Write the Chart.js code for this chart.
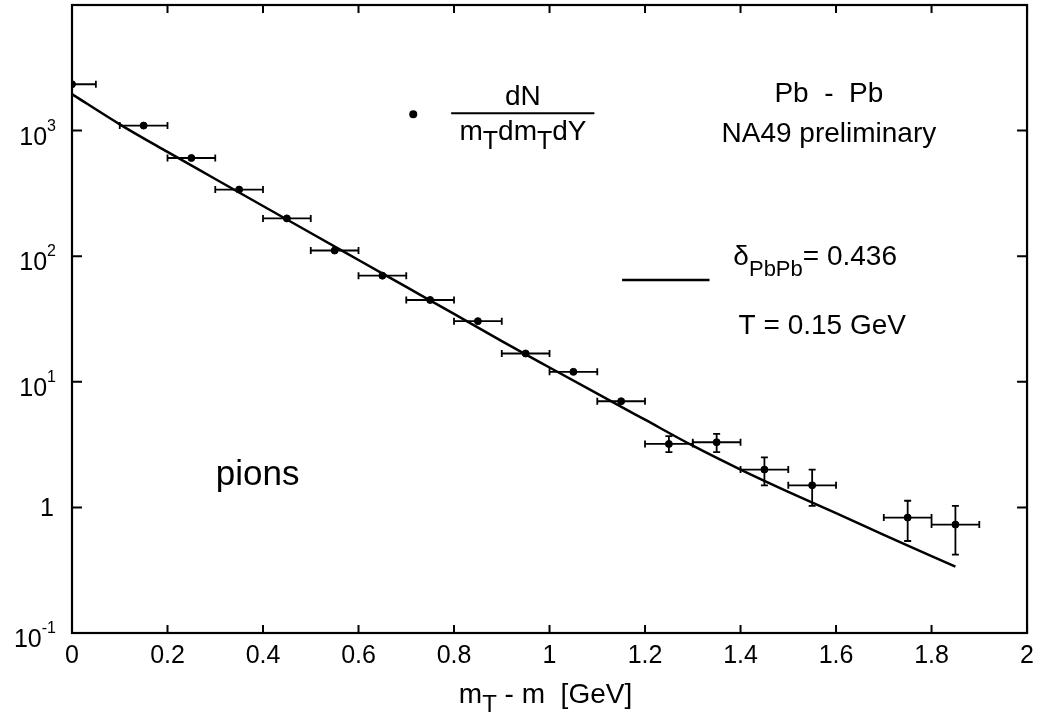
<!DOCTYPE html>
<html>
<head>
<meta charset="utf-8">
<script src="https://cdn.jsdelivr.net/npm/chart.js@4.4.1/dist/chart.umd.min.js"></script>
<style>
  html, body { margin: 0; padding: 0; background: #fff; }
</style>
</head>
<body>
<canvas id="c" width="1042" height="718"></canvas>
<script>
// pion m_T spectrum, Pb-Pb, NA49 preliminary
var mtBin = [0, 0.15, 0.25, 0.35, 0.45, 0.55, 0.65, 0.75, 0.85, 0.95, 1.05, 1.15, 1.25, 1.35, 1.45, 1.55, 1.75, 1.85];
var dNdmt = [2340, 1096, 605, 339, 200, 111, 70, 44.8, 30.4, 16.8, 12, 7.0, 3.2, 3.3, 2.0, 1.5, 0.83, 0.73];
var mtHalfWidth = [0.05, 0.05, 0.05, 0.05, 0.05, 0.05, 0.05, 0.05, 0.05, 0.05, 0.05, 0.05, 0.05, 0.05, 0.05, 0.05, 0.05, 0.05];
var errLow = [null, null, null, null, null, null, null, null, null, null, null, null, 2.75, 2.75, 1.5, 1.03, 0.54, 0.42];
var errHigh = [null, null, null, null, null, null, null, null, null, null, null, null, 3.7, 3.85, 2.5, 2.0, 1.13, 1.03];

// fit curve, delta = 0.436, T = 0.15 GeV
var fitX = [0, 0.1, 0.2, 0.3, 0.4, 0.5, 0.6, 0.7, 0.8, 0.9, 1.0, 1.1, 1.2, 1.3, 1.4, 1.5, 1.6, 1.7, 1.8, 1.85];
var fitY = [1950, 1122, 676, 412, 251, 153, 93.3, 56.9, 34.7, 21.1, 13.0, 8.04, 4.99, 3.10, 2.0, 1.33, 0.90, 0.605, 0.41, 0.337];

var yDecades = [0.1, 1, 10, 100, 1000];
var yTickLabels = [['10', '-1'], ['1', ''], ['10', '1'], ['10', '2'], ['10', '3']];

var FONT = '"Liberation Sans", Arial, Helvetica, sans-serif';

// draw a run of text pieces on a common baseline (dy shifts sub/superscripts)
function drawRuns(ctx, runs, x, y, align) {
    var w = 0;
    runs.forEach(function (r) {
        ctx.font = r.size + 'px ' + FONT;
        r.w = ctx.measureText(r.t).width;
        w += r.w;
    });
    var cx = align === 'center' ? x - w / 2 : (align === 'right' ? x - w : x);
    ctx.textAlign = 'left';
    ctx.textBaseline = 'alphabetic';
    runs.forEach(function (r) {
        ctx.font = r.size + 'px ' + FONT;
        ctx.fillText(r.t, cx, y + (r.dy || 0));
        cx += r.w;
    });
}

var errorBars = {
    id: 'errorBars',
    afterDatasetsDraw: function (chart) {
        var ctx = chart.ctx, xs = chart.scales.x, ys = chart.scales.y, a = chart.chartArea;
        ctx.save();
        ctx.beginPath();
        ctx.rect(a.left, a.top, a.right - a.left, a.bottom - a.top);
        ctx.clip();
        ctx.strokeStyle = '#000';
        ctx.lineWidth = 1.8;
        for (var i = 0; i < mtBin.length; i++) {
            var py = ys.getPixelForValue(dNdmt[i]);
            var x0 = xs.getPixelForValue(mtBin[i] - mtHalfWidth[i]);
            var x1 = xs.getPixelForValue(mtBin[i] + mtHalfWidth[i]);
            ctx.beginPath();
            ctx.moveTo(x0, py); ctx.lineTo(x1, py);
            ctx.moveTo(x0, py - 3.5); ctx.lineTo(x0, py + 3.5);
            ctx.moveTo(x1, py - 3.5); ctx.lineTo(x1, py + 3.5);
            ctx.stroke();
            if (errLow[i] != null) {
                var px = xs.getPixelForValue(mtBin[i]);
                var y0 = ys.getPixelForValue(errLow[i]);
                var y1 = ys.getPixelForValue(errHigh[i]);
                ctx.beginPath();
                ctx.moveTo(px, y0); ctx.lineTo(px, y1);
                ctx.moveTo(px - 3.5, y0); ctx.lineTo(px + 3.5, y0);
                ctx.moveTo(px - 3.5, y1); ctx.lineTo(px + 3.5, y1);
                ctx.stroke();
            }
        }
        ctx.restore();
    }
};

var frameAndText = {
    id: 'frameAndText',
    afterDraw: function (chart) {
        var ctx = chart.ctx, xs = chart.scales.x, ys = chart.scales.y, a = chart.chartArea;
        var X = function (v) { return xs.getPixelForValue(v); };
        var Y = function (lg) { return ys.getPixelForValue(Math.pow(10, lg)); };
        ctx.save();
        ctx.strokeStyle = '#000';
        ctx.fillStyle = '#000';

        // box
        ctx.lineWidth = 2.2;
        ctx.strokeRect(a.left, a.top, a.right - a.left, a.bottom - a.top);

        // inward ticks
        ctx.lineWidth = 2;
        ctx.beginPath();
        xs.ticks.forEach(function (t) {
            var px = X(t.value);
            ctx.moveTo(px, a.bottom); ctx.lineTo(px, a.bottom - 8);
            ctx.moveTo(px, a.top); ctx.lineTo(px, a.top + 8);
        });
        yDecades.forEach(function (v) {
            var py = ys.getPixelForValue(v);
            ctx.moveTo(a.left, py); ctx.lineTo(a.left + 10, py);
            ctx.moveTo(a.right, py); ctx.lineTo(a.right - 10, py);
        });
        ctx.stroke();

        // y tick labels
        yDecades.forEach(function (v, i) {
            var py = ys.getPixelForValue(v);
            var lab = yTickLabels[i];
            if (lab[1] === '') {
                drawRuns(ctx, [{ t: lab[0], size: 25 }], 54, py + 9, 'right');
            } else {
                drawRuns(ctx, [{ t: lab[0], size: 25 }, { t: lab[1], size: 16, dy: -14 }], 56, py + 14, 'right');
            }
        });

        // x axis title
        drawRuns(ctx, [{ t: 'm', size: 28 }, { t: 'T', size: 24, dy: 9 }, { t: ' - m  [GeV]', size: 28 }],
            (a.left + a.right) / 2 - 4, 703, 'center');

        // legend: marker and formula
        ctx.beginPath();
        ctx.arc(X(0.7146), Y(3.130), 4, 0, Math.PI * 2);
        ctx.fill();
        drawRuns(ctx, [{ t: 'dN', size: 28 }], X(0.944), Y(3.204), 'center');
        ctx.lineWidth = 2;
        ctx.beginPath();
        ctx.moveTo(X(0.794), Y(3.138)); ctx.lineTo(X(1.094), Y(3.138));
        ctx.stroke();
        drawRuns(ctx, [{ t: 'm', size: 28 }, { t: 'T', size: 25, dy: 9 }, { t: 'dm', size: 28 },
            { t: 'T', size: 25, dy: 9 }, { t: 'dY', size: 28 }], X(0.9445), Y(2.925), 'center');

        drawRuns(ctx, [{ t: 'Pb  -  Pb', size: 28 }], X(1.585), Y(3.230), 'center');
        drawRuns(ctx, [{ t: 'NA49 preliminary', size: 28 }], X(1.585), Y(2.912), 'center');

        // legend: fit line
        drawRuns(ctx, [{ t: '\u03b4', size: 28 }, { t: 'PbPb', size: 22, dy: 11 }, { t: '= 0.436', size: 28 }],
            X(1.385), Y(1.930), 'left');
        ctx.lineWidth = 2.5;
        ctx.beginPath();
        ctx.moveTo(X(1.152), Y(1.811)); ctx.lineTo(X(1.335), Y(1.811));
        ctx.stroke();
        drawRuns(ctx, [{ t: 'T = 0.15 GeV', size: 28 }], X(1.396), Y(1.381), 'left');

        drawRuns(ctx, [{ t: 'pions', size: 35 }], X(0.301), Y(0.182), 'left');
        ctx.restore();
    }
};

new Chart(document.getElementById('c'), {
    type: 'scatter',
    data: {
        datasets: [
            {
                label: 'dN/mT dmT dY',
                data: mtBin.map(function (x, i) { return { x: x, y: dNdmt[i] }; }),
                backgroundColor: '#000',
                borderColor: '#000',
                pointRadius: 3.5,
                pointHoverRadius: 3.5
            },
            {
                label: 'fit',
                type: 'line',
                data: fitX.map(function (x, i) { return { x: x, y: fitY[i] }; }),
                borderColor: '#000',
                borderWidth: 2.5,
                pointRadius: 0,
                fill: false,
                cubicInterpolationMode: 'monotone'
            }
        ]
    },
    options: {
        responsive: false,
        animation: false,
        devicePixelRatio: 1,
        layout: { padding: { top: 5, right: 11, left: 0, bottom: 0 } },
        plugins: { legend: { display: false }, tooltip: { enabled: false } },
        scales: {
            x: {
                type: 'linear',
                min: 0,
                max: 2,
                afterFit: function (s) { s.height = 85; },
                ticks: {
                    stepSize: 0.2,
                    autoSkip: false,
                    maxRotation: 0,
                    minRotation: 0,
                    color: '#000',
                    padding: 8,
                    font: { size: 25, family: FONT },
                    callback: function (v) { return String(+v.toFixed(1)); }
                },
                grid: { display: false, drawTicks: false },
                border: { display: false }
            },
            y: {
                type: 'logarithmic',
                min: 0.1,
                max: 10000,
                afterFit: function (s) { s.width = 72; },
                ticks: { display: false },
                grid: { display: false, drawTicks: false },
                border: { display: false }
            }
        }
    },
    plugins: [errorBars, frameAndText]
});
</script>
</body>
</html>
